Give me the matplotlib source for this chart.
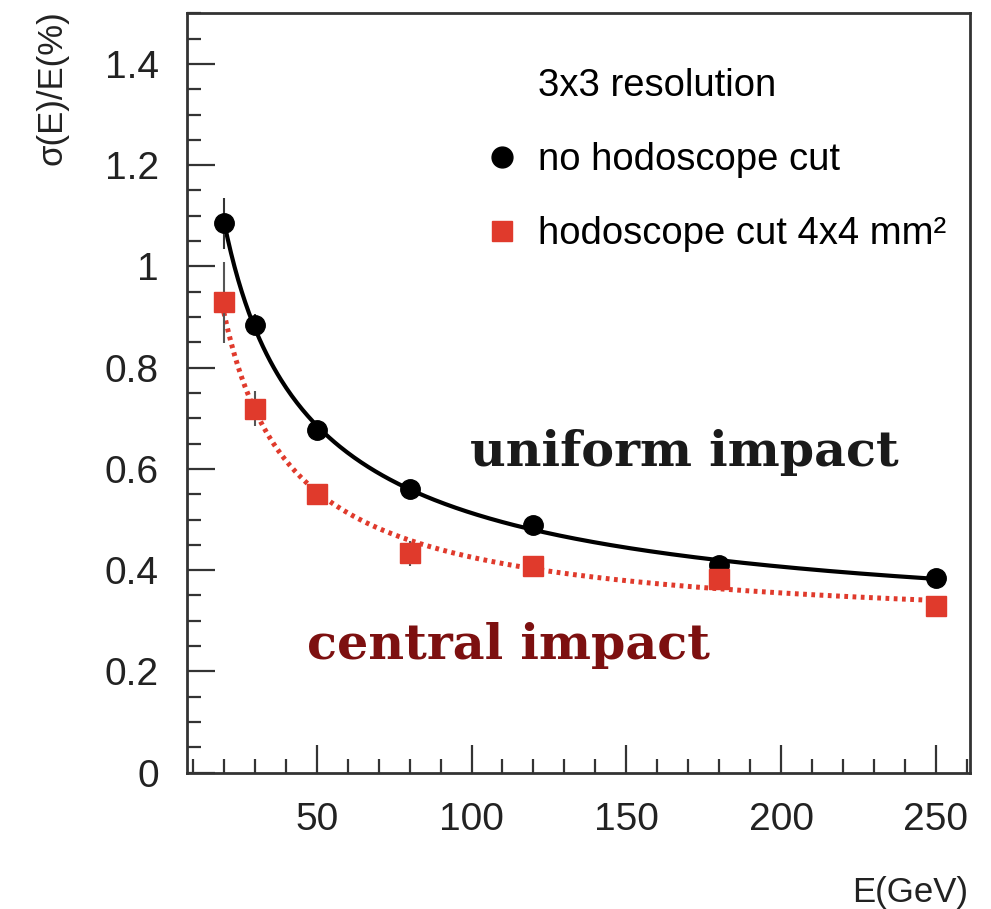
import numpy as np
import matplotlib.pyplot as plt
from matplotlib.lines import Line2D
from matplotlib.ticker import MultipleLocator, FormatStrFormatter

plt.rcParams['font.family'] = ['Liberation Sans', 'DejaVu Sans']

# beam energies (GeV) and measured 3x3 resolution (%)
energy = np.array([20, 30, 50, 80, 120, 180, 250])
res_nocut = np.array([1.085, 0.885, 0.676, 0.561, 0.490, 0.411, 0.384])
err_nocut = np.array([0.05, 0.02, 0.015, 0.012, 0.012, 0.012, 0.01])
res_cut = np.array([0.929, 0.719, 0.551, 0.433, 0.408, 0.382, 0.330])
err_cut = np.array([0.08, 0.034, 0.02, 0.025, 0.012, 0.012, 0.01])

RED = '#e03a2c'
DARKRED = '#7d1010'


def fit_resolution(e, s, ds):
    # sigma/E = a/sqrt(E) (+) b (+) c/E  ->  linear in a^2, b^2, c^2
    A = np.column_stack([1 / e, np.ones_like(e, dtype=float), 1 / e**2])
    w = 1 / (2 * s * ds)
    coef, *_ = np.linalg.lstsq(A * w[:, None], s**2 * w, rcond=None)
    return coef


def resolution(e, coef):
    return np.sqrt(coef[0] / e + coef[1] + coef[2] / e**2)


fig = plt.figure(figsize=(9.91, 9.09), dpi=100)
ax = fig.add_axes([0.1884, 0.150, 0.7904, 0.8354])

e_fine = np.linspace(energy[0], energy[-1], 400)
ax.plot(e_fine, resolution(e_fine, fit_resolution(energy, res_nocut, err_nocut)),
        color='black', lw=3, zorder=2)
ax.plot(e_fine, resolution(e_fine, fit_resolution(energy, res_cut, err_cut)),
        color=RED, lw=3.6, ls=(0, (0.75, 0.9)), zorder=2)

ax.errorbar(energy, res_nocut, yerr=err_nocut, fmt='o', color='black', ms=14,
            ecolor='#333333', elinewidth=1.5, capsize=0, zorder=3)
ax.errorbar(energy, res_cut, yerr=err_cut, fmt='s', color=RED, ms=14,
            ecolor='#555555', elinewidth=1.5, capsize=0, zorder=3)

ax.text(99.6, 0.606, 'uniform impact', family='DejaVu Serif', weight='bold',
        fontsize=35.5, color='#1a1a1a', ha='left', va='baseline')
ax.text(46.7, 0.225, 'central impact', family='DejaVu Serif', weight='bold',
        fontsize=35.5, color=DARKRED, ha='left', va='baseline')

handles = [Line2D([], [], ls='none'),
           Line2D([], [], ls='none', marker='o', color='black', ms=15),
           Line2D([], [], ls='none', marker='s', color=RED, ms=15)]
labels = ['3x3 resolution', 'no hodoscope cut', 'hodoscope cut 4x4 mm²']
ax.legend(handles, labels, loc='upper left', frameon=False, fontsize=27.5,
          handlelength=1.0, handletextpad=0.45, labelspacing=1.0, borderpad=0,
          borderaxespad=0, bbox_to_anchor=(482.7 / 991, 1 - 68 / 909),
          bbox_transform=fig.transFigure)

ax.set_xlim(8, 261)
ax.set_ylim(0, 1.5)
ax.xaxis.set_major_locator(MultipleLocator(50))
ax.xaxis.set_minor_locator(MultipleLocator(10))
ax.yaxis.set_major_locator(MultipleLocator(0.2))
ax.yaxis.set_minor_locator(MultipleLocator(0.05))
ax.yaxis.set_major_formatter(FormatStrFormatter('%g'))

ax.tick_params(which='both', direction='in', top=False, right=False,
               width=1.6, color='#333333', labelcolor='#222222')
ax.tick_params(which='major', length=20, labelsize=28)
ax.tick_params(axis='x', which='major', pad=21)
ax.tick_params(axis='y', which='major', pad=20)
ax.tick_params(which='minor', length=10)
for sp in ax.spines.values():
    sp.set_linewidth(2)
    sp.set_color('#333333')

ax.set_xlabel('E(GeV)', fontsize=25, loc='right', color='#222222')
ax.xaxis.set_label_coords(0.997, -0.136)
ax.xaxis.label.set_va('top')
ax.set_ylabel('σ(E)/E(%)', fontsize=25, loc='top', color='#222222')
ax.yaxis.set_label_coords(-0.1515, 1.004)

fig.savefig('out.png', dpi=100)
